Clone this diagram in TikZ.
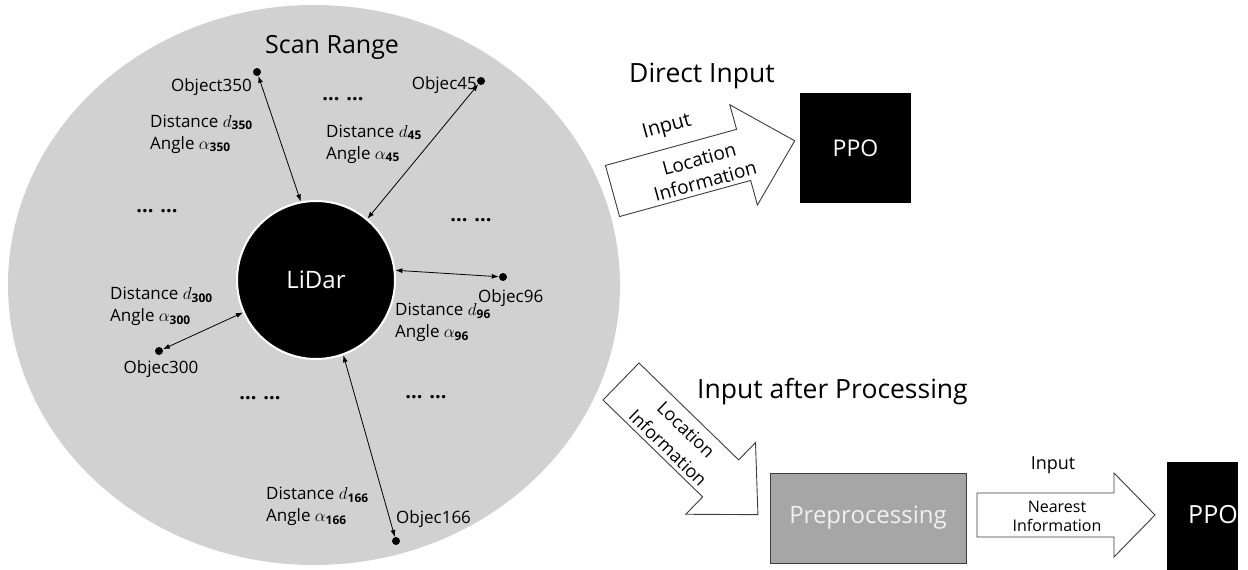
\documentclass[tikz,border=0pt]{standalone}
\usepackage{fontspec}
\setmainfont{Open Sans}
\usetikzlibrary{arrows.meta,shapes.geometric}
\definecolor{scangray}{RGB}{209,209,209}
\definecolor{boxgray}{RGB}{166,166,166}
\definecolor{edgegray}{RGB}{60,60,60}
\definecolor{paletext}{RGB}{240,240,240}
\newcommand\fsz[2]{\fontsize{#1}{#2}\selectfont}
\newcommand\dsub[1]{$d_{\mathbf{#1}}$}
\newcommand\asub[1]{$\alpha_{\mathbf{#1}}$}
\begin{document}
\begin{tikzpicture}[x=1pt,y=-1pt,
  lbl/.style={font=\fsz{17}{22}, align=left, inner sep=0pt, anchor=west},
  objlbl/.style={font=\fsz{17}{20}, inner sep=0pt},
  dot/.style={circle, fill=black, minimum size=8pt, inner sep=0pt},
  link/.style={line width=0.8pt, {Latex[length=7pt,width=5pt]}-{Latex[length=7pt,width=5pt]}},
  elli/.style={font=\fsz{20}{22}\bfseries, inner sep=0pt},
  title/.style={font=\fsz{26.5}{30}, inner sep=0pt, anchor=base west},
  hollow/.style={draw=edgegray, fill=white, line width=0.9pt, line join=miter},
]
\useasboundingbox (0,0) rectangle (1248,570);
% scan range
\node[ellipse, fill=scangray, minimum width=612pt, minimum height=560pt, inner sep=0pt] (scan) at (314,285) {};
\node[title, font=\fsz{25}{30}] (scantitle) at (265,53) {Scan Range};
\node[circle, fill=black, draw=white, line width=2pt, minimum size=158pt, inner sep=0pt, text=white, font=\fsz{24}{28}] (lidar) at (316,280) {LiDar};
% objects
\node[dot] (o350) at (257,72) {};
\node[dot] (o45) at (481,81) {};
\node[dot] (o96) at (503,277) {};
\node[dot] (o300) at (159,351) {};
\node[dot] (o166) at (396,541) {};
\draw[link] (o350) -- (lidar.101);
\draw[link] (o45) -- (lidar.50);
\draw[link] (o96) -- (lidar.7);
\draw[link] (o300) -- (lidar.204);
\draw[link] (o166) -- (lidar.290);
\node[objlbl, anchor=east] (t350) at (252,87) {Object350};
\node[objlbl, anchor=east] (t45) at (477,85) {Objec45};
\node[objlbl, anchor=west] (t96) at (478,298) {Objec96};
\node[objlbl] (t300) at (161,369) {Objec300};
\node[objlbl, anchor=west] (t166) at (396,519) {Objec166};
\node[lbl] (m350) at (150,134) {Distance \dsub{350}\\Angle \asub{350}};
\node[lbl] (m45) at (326,144) {Distance \dsub{45}\\Angle \asub{45}};
\node[lbl] (m300) at (110,306.5) {Distance \dsub{300}\\Angle \asub{300}};
\node[lbl] (m96) at (395,322.5) {Distance \dsub{96}\\Angle \asub{96}};
\node[lbl] (m166) at (266,506.5) {Distance \dsub{166}\\Angle \asub{166}};
\node[elli] (e1) at (343,99) {... ...};
\node[elli] (e2) at (157,211) {... ...};
\node[elli] (e3) at (471,220) {... ...};
\node[elli] (e4) at (260,398) {... ...};
\node[elli] (e5) at (426,397) {... ...};
% direct input
\node[title] (direct) at (629,82) {Direct Input};
\begin{scope}[shift={(612.5,191)}, rotate=15.4]
  \draw[hollow] (0,-26.5) -- (136,-26.5) -- (136,-52) -- (189,0) -- (136,52) -- (136,26.5) -- (0,26.5) -- cycle;
  \node[font=\fsz{20}{23}, rotate=15.4, inner sep=0pt] (ain) at (69.5,-47) {Input};
  \node[font=\fsz{19}{23}, rotate=15.4, align=center, inner sep=0pt] (aloc) at (92,3.7) {Location\\Information};
\end{scope}
\node[fill=black, minimum width=111pt, minimum height=110pt, inner sep=0pt, text=white, font=\fsz{23}{26}] (ppo1) at (855.5,148) {PPO};
% input after processing
\node[title] (after) at (697,398) {Input after Processing};
\begin{scope}[shift={(621,381.5)}, rotate=-44.2]
  \draw[hollow] (0,-25.8) -- (139,-25.8) -- (139,-50) -- (191,0) -- (139,50) -- (139,25.8) -- (0,25.8) -- cycle;
  \node[font=\fsz{18}{26}, rotate=-44.2, align=center, inner sep=0pt] (bloc) at (80,1.9) {Location\\Information};
\end{scope}
\node[draw=edgegray, fill=boxgray, line width=0.9pt, minimum width=196pt, minimum height=90pt, inner sep=0pt, text=paletext, font=\fsz{24}{28}] (pre) at (868,518) {Preprocessing};
\draw[hollow] (977,493) -- (1114,493) -- (1114,473) -- (1155,515) -- (1114,557) -- (1114,537) -- (977,537) -- cycle;
\node[font=\fsz{18}{20}, inner sep=0pt] (bin) at (1053,465) {Input};
\node[font=\fsz{16}{19}, align=center, inner sep=0pt] (bnear) at (1057,516) {Nearest\\Information};
\node[fill=black, minimum width=71pt, minimum height=110pt, inner sep=0pt, anchor=north west] (ppo2box) at (1167,462) {};
\node[text=white, font=\fsz{25}{28}, inner sep=0pt] (ppo2) at (1213,515) {PPO};
\end{tikzpicture}
\end{document}
